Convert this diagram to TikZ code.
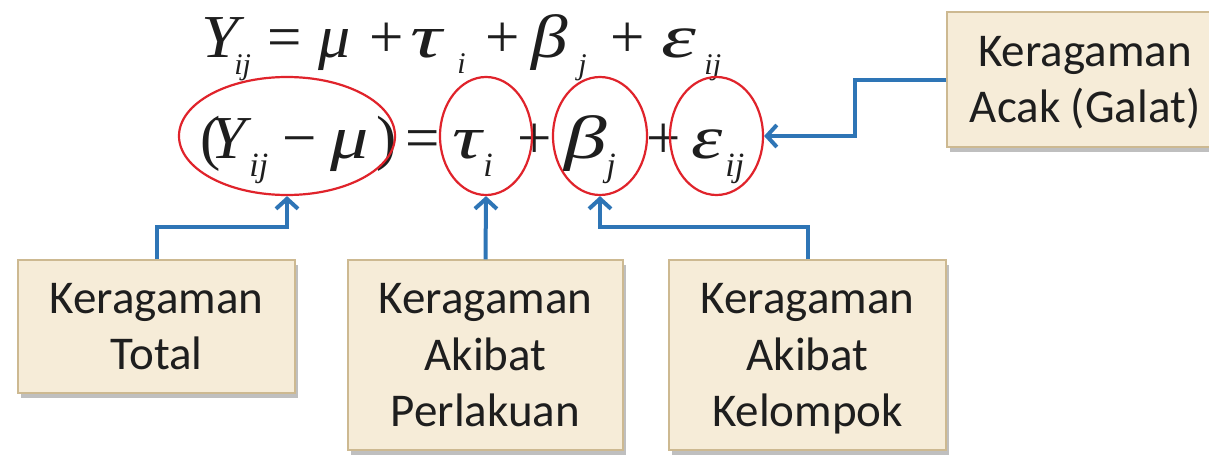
\documentclass[tikz,border=0pt]{standalone}
\usepackage{fontspec}
\usetikzlibrary{arrows.meta,shapes.geometric,shadows}
\newfontfamily\boxfont{Carlito}
\newfontfamily\eqfont{Liberation Serif}
\definecolor{boxfill}{HTML}{F6ECD8}
\definecolor{boxline}{HTML}{CDB991}
\definecolor{arrblue}{HTML}{2E75B6}
\definecolor{ellred}{HTML}{E0232B}
\definecolor{txt}{HTML}{1E1E1E}
\newcommand{\gl}[2]{\scalebox{#1}[1]{\itshape #2}}
\tikzset{
 lbox/.style={draw=boxline, line width=0.6pt, fill=boxfill, align=center, text=txt,
   font=\boxfont\fontsize{23.5}{28.25}\selectfont, inner sep=0pt, text depth=0pt,
   drop shadow={shadow xshift=1.5pt, shadow yshift=-2.5pt, opacity=0.45, fill=black!55}},
 let/.style={inner sep=0pt, anchor=base west, font=\eqfont\fontsize{30.5}{30.5}\selectfont, text=txt},
 op/.style={inner sep=0pt, anchor=base, font=\eqfont\fontsize{30.5}{30.5}\selectfont, text=txt},
 sub/.style={inner sep=0pt, anchor=base west, font=\eqfont\itshape\fontsize{15}{15}\selectfont, text=txt},
 subb/.style={sub, font=\eqfont\itshape\fontsize{17}{17}\selectfont},
 ring/.style={ellipse, draw=ellred, line width=1.1pt, inner sep=0pt},
 conn/.style={draw=arrblue, line width=2pt, -{Straight Barb[length=5pt,width=11pt,line width=2pt]}},
}
\begin{document}
\begin{tikzpicture}[x=0.5pt, y=-0.5pt]
\useasboundingbox[fill=white] (0,0) rectangle (1209,455);
% line 1 (baseline 57, subscripts 73)
\node[let] (y1) at (201,57) {\gl{1.1}{Y}};
\node[sub] (y1s) at (234,74) {ij};
\node[op] (eq1) at (285,57) {=};
\node[let] (mu1) at (318,57) {\gl{1.05}{μ}};
\node[op] (p1) at (387,57) {+};
\node[let] (t1) at (410,57) {\gl{1.45}{τ}};
\node[sub] (t1s) at (457,73) {i};
\node[op] (p2) at (503,57) {+};
\node[let] (b1) at (531,57) {\gl{1.2}{β}};
\node[sub] (b1s) at (578,74) {j};
\node[op] (p3) at (628,57) {+};
\node[let] (e1) at (661,57) {\gl{1.45}{ε}};
\node[sub] (e1s) at (704,74) {ij};
% line 2 (baseline 158, subscripts 175)
\node[let] (lp) at (200,158) {(};
\node[let] (y2) at (210,158) {\gl{1.05}{Y}};
\node[subb] (y2s) at (249,176) {ij};
\node[op] (mn) at (300,158) {−};
\node[let] (mu2) at (330,158) {\gl{1.25}{μ}};
\node[let] (rp) at (376,158) {)};
\node[op] (eq2) at (423,158) {=};
\node[let] (t2) at (452,158) {\gl{1.35}{τ}};
\node[subb] (t2s) at (483,176) {i};
\node[op] (p4) at (535,158) {+};
\node[let] (b2) at (564,158) {\gl{1.4}{β}};
\node[subb] (b2s) at (606,176) {j};
\node[op] (p5) at (664,158) {+};
\node[let] (e2) at (691,158) {\gl{1.3}{ε}};
\node[subb] (e2s) at (725,176) {ij};
% rings
\node[ring, minimum width=108pt, minimum height=59pt] (r1) at (287,136) {};
\node[ring, minimum width=46pt, minimum height=59pt] (r2) at (486,136) {};
\node[ring, minimum width=47pt, minimum height=59pt] (r3) at (600,136) {};
\node[ring, minimum width=46.5pt, minimum height=59pt] (r4) at (716.5,136) {};
% connector bends
\coordinate (j1) at (287,227);
\coordinate (j3) at (600,227);
\coordinate (j4) at (855,110);
% boxes
\node[lbox, minimum width=138.5pt, minimum height=66.5pt] (tot) at (156.5,326.5) {Keragaman\\Total};
\node[lbox, minimum width=137.5pt, minimum height=95pt] (per) at (485.5,355) {Keragaman\\Akibat\\Perlakuan};
\node[lbox, minimum width=138.5pt, minimum height=95pt] (kel) at (807.5,355) {Keragaman\\Akibat\\Kelompok};
\node[lbox, minimum width=138pt, minimum height=67.5pt] (aca) at (1085,79.5) {Keragaman\\Acak (Galat)};
\draw[conn] (tot.north) |- (j1) -- (r1.south);
\draw[conn] (per.north) -- (r2.south);
\draw[conn] (kel.north) |- (j3) -- (r3.south);
\draw[conn] (aca.west) -| (j4) |- (r4.east);
\end{tikzpicture}
\end{document}
